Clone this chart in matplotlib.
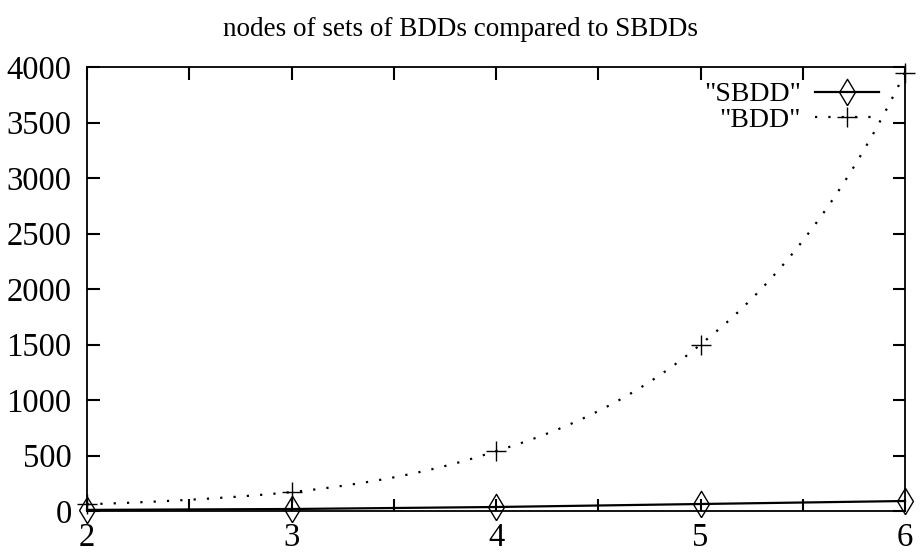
import numpy as np
import matplotlib
matplotlib.use("Agg")
import matplotlib.pyplot as plt

# values
n = [2, 3, 4, 5, 6]
sbdd = [10, 18, 36, 63, 90]
bdd = [60, 170, 540, 1500, 3950]

plt.rcParams['font.family'] = ['Liberation Serif', 'DejaVu Serif']

fig = plt.figure(figsize=(9.21, 5.54), dpi=100)
ax = fig.add_axes([87 / 921, 43 / 554, 818 / 921, 444 / 554])

# gnuplot-like smooth curve for BDD: log-space interpolation between the data points
xs, idx = [], []
for i in range(len(n) - 1):
    seg = np.linspace(n[i], n[i + 1], 40, endpoint=False)
    idx.append(len(xs))
    xs.extend(seg)
idx.append(len(xs))
xs.append(n[-1])
xs = np.array(xs)
ys = np.exp(np.interp(xs, n, np.log(bdd)))

diamond = [(0, -1), (0.6, 0), (0, 1), (-0.6, 0), (0, -1)]

ax.plot(n, sbdd, color='black', lw=1.6, marker=diamond, markersize=19,
        markerfacecolor='none', markeredgewidth=1.0, clip_on=False, label='"SBDD"')
ax.plot(xs, ys, color='black', lw=1.6, linestyle=(0, (1, 5)), marker='+',
        markersize=15, markeredgewidth=1.0, markevery=idx, clip_on=False,
        label='"BDD"')

ax.set_xlim(2, 6)
ax.set_ylim(0, 4000)
ax.set_xticks(n)
ax.set_xticks(np.arange(2, 6.01, 0.5), minor=True)
ax.set_yticks(np.arange(0, 4001, 500))
ax.tick_params(axis='both', direction='in', length=9, width=1.5, labelsize=23.5,
               top=True, right=True)
ax.tick_params(axis='y', pad=11)
ax.tick_params(axis='x', pad=8)
ax.tick_params(axis='x', which='minor', direction='in', length=9, width=1.5,
               top=True, bottom=True)
for s in ax.spines.values():
    s.set_linewidth(1.3)

fig.text(0.5, 1 - 30 / 554, 'nodes of sets of BDDs compared to SBDDs',
         fontsize=19.5, ha='center', va='center')

ax.legend(loc='upper right', bbox_to_anchor=(0.992, 1.01), frameon=False,
          markerfirst=False, fontsize=20, handlelength=2.3, handletextpad=0.5,
          labelspacing=0.0, borderpad=0.2)

fig.savefig('out.png', dpi=100)
